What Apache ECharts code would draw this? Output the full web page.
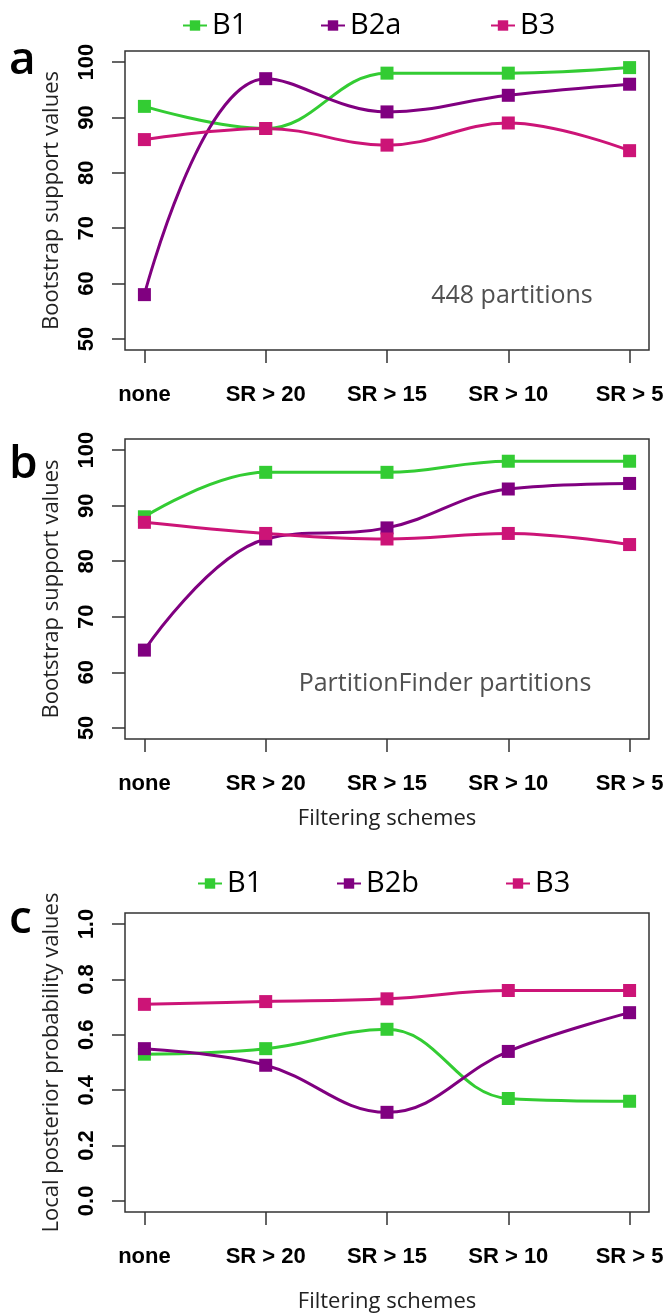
<!DOCTYPE html>
<html>
<head>
<meta charset="utf-8">
<script src="https://cdn.jsdelivr.net/npm/echarts@6/dist/echarts.min.js"></script>
<style>
  html, body { margin: 0; padding: 0; background: #fff; }
</style>
</head>
<body>

<div id="main" style="width: 670px;height:1315px;"></div>

<script type="text/javascript">
    // filtering schemes (x axis)
    var schemes = ['none', 'SR > 20', 'SR > 15', 'SR > 10', 'SR > 5'];

    // panel a: bootstrap support, 448 partitions
    var a_B1  = [92, 88, 98, 98, 99];
    var a_B2a = [58, 97, 91, 94, 96];
    var a_B3  = [86, 88, 85, 89, 84];

    // panel b: bootstrap support, PartitionFinder partitions
    var b_B1  = [88, 96, 96, 98, 98];
    var b_B2a = [64, 84, 86, 93, 94];
    var b_B3  = [87, 85, 84, 85, 83];

    // panel c: local posterior probability
    var c_B1  = [0.53, 0.55, 0.62, 0.37, 0.36];
    var c_B2b = [0.55, 0.49, 0.32, 0.54, 0.68];
    var c_B3  = [0.71, 0.72, 0.73, 0.76, 0.76];

    var bsTicks = [50, 60, 70, 80, 90, 100];
    var ppTicks = [0, 0.2, 0.4, 0.6, 0.8, 1.0];

    var green = '#33cc33', purple = '#800080', pink = '#cc1477';

    var myChart = echarts.init(document.getElementById('main'));

    function pts(arr) {
        return arr.map(function (v, i) { return [i, v]; });
    }

    function xAxis(idx, name, gap) {
        return {
            type: 'value', gridIndex: idx, min: -0.16, max: 4.16,
            axisLine: {show: false, onZero: false},
            splitLine: {show: false},
            axisTick: {customValues: [0, 1, 2, 3, 4], length: 13, lineStyle: {color: '#333', width: 1.5}},
            axisLabel: {
                customValues: [0, 1, 2, 3, 4],
                formatter: function (v) { return schemes[Math.round(v)]; },
                margin: 34, color: '#000', fontSize: 22, fontWeight: 'bold',
                fontFamily: 'Liberation Sans'
            },
            name: name, nameLocation: 'middle', nameGap: gap,
            nameTextStyle: {fontFamily: 'Open Sans', fontSize: 22, color: '#222'}
        };
    }

    function yAxis(idx, min, max, ticks, name, fmt) {
        return {
            type: 'value', gridIndex: idx, min: min, max: max,
            axisLine: {show: false, onZero: false},
            splitLine: {show: false},
            axisTick: {customValues: ticks, length: 13, lineStyle: {color: '#333', width: 1.5}},
            axisLabel: {
                customValues: ticks, rotate: 90, margin: 27,
                formatter: fmt,
                color: '#000', fontSize: 22, fontWeight: 'bold', fontFamily: 'Liberation Sans'
            },
            name: name, nameLocation: 'middle', nameGap: 62,
            nameTextStyle: {fontFamily: 'Open Sans', fontSize: 22, color: '#222'}
        };
    }

    function line(name, idx, arr, color) {
        return {
            name: name, type: 'line', xAxisIndex: idx, yAxisIndex: idx,
            data: pts(arr), smooth: 0.4,
            symbol: 'rect', symbolSize: 13,
            lineStyle: {color: color, width: 3},
            itemStyle: {color: color},
            emphasis: {disabled: true}
        };
    }

    function legendItem(name, left, top) {
        return {
            data: [name], left: left, top: top, padding: 0,
            itemWidth: 24, itemHeight: 13,
            textStyle: {fontFamily: 'Open Sans', fontSize: 29, color: '#000'}
        };
    }

    var gridStyle = {show: true, borderColor: '#333', borderWidth: 1.5, backgroundColor: 'transparent'};

    var option = {
        animation: false,
        backgroundColor: '#fff',
        grid: [
            Object.assign({left: 125, top: 51, width: 524, height: 299}, gridStyle),
            Object.assign({left: 125, top: 439, width: 524, height: 300}, gridStyle),
            Object.assign({left: 125, top: 913, width: 524, height: 299}, gridStyle)
        ],
        xAxis: [
            xAxis(0, '', 0),
            xAxis(1, 'Filtering schemes', 69),
            xAxis(2, 'Filtering schemes', 79)
        ],
        yAxis: [
            yAxis(0, 48, 102, bsTicks, 'Bootstrap support values', function (v) { return String(v); }),
            yAxis(1, 48, 102, bsTicks, 'Bootstrap support values', function (v) { return String(v); }),
            yAxis(2, -0.04, 1.04, ppTicks, 'Local posterior probability values', function (v) { return v.toFixed(1); })
        ],
        legend: [
            legendItem('B1', 182, 11),
            legendItem('B2a', 320, 11),
            legendItem('B3', 490, 11),
            legendItem('B1', 197, 869),
            legendItem('B2b', 336, 869),
            legendItem('B3', 505, 869)
        ],
        graphic: [
            {type: 'text', x: 9, y: 38, style: {text: 'a', font: '600 46px "Open Sans"', fill: '#000', textVerticalAlign: 'alphabetic'}},
            {type: 'text', x: 9, y: 442, style: {text: 'b', font: '600 46px "Open Sans"', fill: '#000', textVerticalAlign: 'alphabetic'}},
            {type: 'text', x: 9, y: 897, style: {text: 'c', font: '600 46px "Open Sans"', fill: '#000', textVerticalAlign: 'alphabetic'}},
            {type: 'text', x: 512, y: 283, style: {text: '448 partitions', font: '25px "Open Sans"', fill: '#505050', textAlign: 'center', textVerticalAlign: 'alphabetic'}},
            {type: 'text', x: 445, y: 671, style: {text: 'PartitionFinder partitions', font: '25px "Open Sans"', fill: '#505050', textAlign: 'center', textVerticalAlign: 'alphabetic'}}
        ],
        series: [
            line('B1', 0, a_B1, green),
            line('B2a', 0, a_B2a, purple),
            line('B3', 0, a_B3, pink),
            line('B1', 1, b_B1, green),
            line('B2a', 1, b_B2a, purple),
            line('B3', 1, b_B3, pink),
            line('B1', 2, c_B1, green),
            line('B2b', 2, c_B2b, purple),
            line('B3', 2, c_B3, pink)
        ]
    };

    myChart.setOption(option);
</script>
</body>
</html>
